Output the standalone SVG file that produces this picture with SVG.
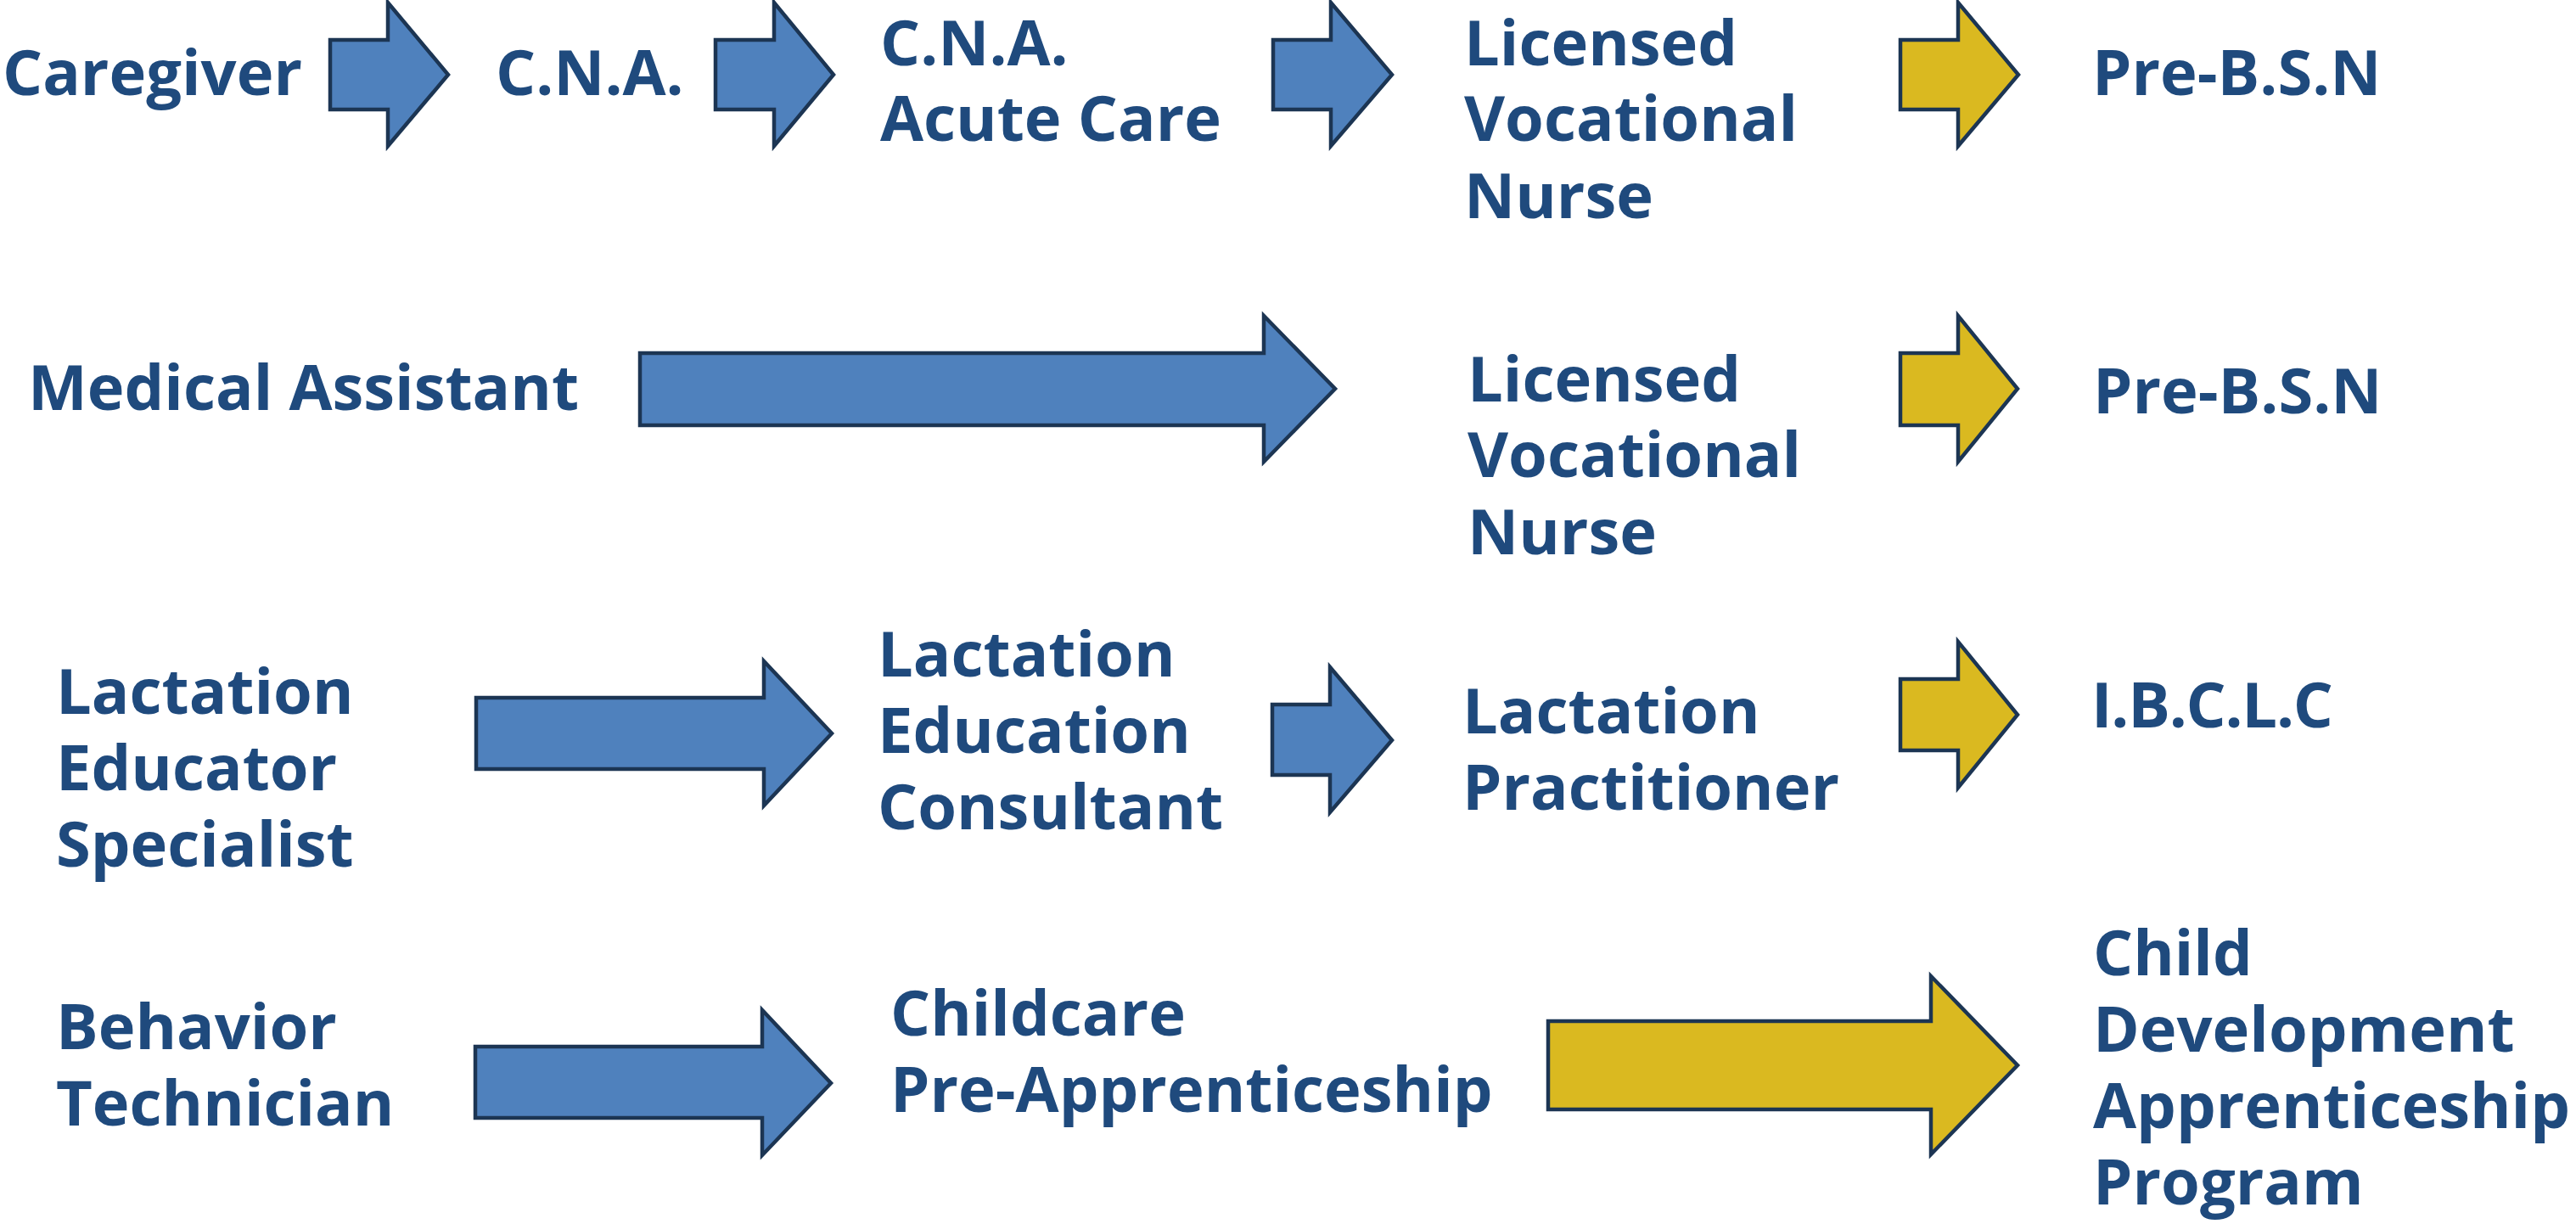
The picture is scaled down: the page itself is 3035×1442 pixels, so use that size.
<svg xmlns="http://www.w3.org/2000/svg" width="3035" height="1442" viewBox="0 0 3035 1442">
<style>
.t{font-family:"Open Sans","Noto Sans","Liberation Sans",sans-serif;font-weight:700;font-size:74px;fill:#1F4A7D}
.b{fill:#4F81BD;stroke:#1C3553;stroke-width:4.5;stroke-linejoin:miter}
.y{fill:#DAB920;stroke:#1C3553;stroke-width:4.5;stroke-linejoin:miter}
</style>
<rect width="3035" height="1442" fill="#FFFFFF"/>
<g id="connectors">
<polygon class="b" points="389,47 457,47 457,3 528,88 457,172 457,129 389,129"/>
<polygon class="b" points="843,47 912,47 912,3 982,88 912,172 912,129 843,129"/>
<polygon class="b" points="1500,47 1568,47 1568,3 1640,88 1568,172 1568,129 1500,129"/>
<polygon class="y" points="2239,47 2307,47 2307,3 2378,88 2307,172 2307,129 2239,129"/>
<polygon class="b" points="754,416 1489,416 1489,372 1573,458 1489,544 1489,501 754,501"/>
<polygon class="y" points="2239,416 2307,416 2307,372 2377,458 2307,544 2307,501 2239,501"/>
<polygon class="b" points="561,822 900,822 900,779 980,864 900,949 900,906 561,906"/>
<polygon class="b" points="1499,830 1567,830 1567,786 1640,872 1567,957 1567,913 1499,913"/>
<polygon class="y" points="2239,800 2307,800 2307,756 2377,842 2307,928 2307,884 2239,884"/>
<polygon class="b" points="560,1233 898,1233 898,1190 979,1276 898,1361 898,1317 560,1317"/>
<polygon class="y" points="1824,1203 2275,1203 2275,1150 2377,1255 2275,1360 2275,1307 1824,1307"/>
</g>
<g id="caregiver"><text class="t" x="3" y="112">Caregiver</text></g>
<g id="cna"><text class="t" x="584" y="112">C.N.A.</text></g>
<g id="cna-acute"><text class="t"><tspan x="1037" y="77">C.N.A.</tspan><tspan x="1037" y="166">Acute Care</tspan></text></g>
<g id="lvn-1"><text class="t"><tspan x="1725" y="77">Licensed</tspan><tspan x="1725" y="166">Vocational</tspan><tspan x="1725" y="257">Nurse</tspan></text></g>
<g id="prebsn-1"><text class="t" x="2465" y="112">Pre-B.S.N</text></g>
<g id="medical-assistant"><text class="t" x="33" y="483">Medical Assistant</text></g>
<g id="lvn-2"><text class="t"><tspan x="1729" y="473">Licensed</tspan><tspan x="1729" y="562">Vocational</tspan><tspan x="1729" y="653">Nurse</tspan></text></g>
<g id="prebsn-2"><text class="t" x="2466" y="487">Pre-B.S.N</text></g>
<g id="lactation-educator"><text class="t"><tspan x="66" y="841">Lactation</tspan><tspan x="66" y="931">Educator</tspan><tspan x="66" y="1021">Specialist</tspan></text></g>
<g id="lactation-consultant"><text class="t"><tspan x="1034" y="797">Lactation</tspan><tspan x="1034" y="887">Education</tspan><tspan x="1034" y="977">Consultant</tspan></text></g>
<g id="lactation-practitioner"><text class="t"><tspan x="1723" y="864">Lactation</tspan><tspan x="1723" y="954">Practitioner</tspan></text></g>
<g id="ibclc"><text class="t" x="2464" y="857" textLength="285" lengthAdjust="spacing">I.B.C.L.C</text></g>
<g id="behavior-technician"><text class="t"><tspan x="66" y="1236">Behavior</tspan><tspan x="66" y="1326">Technician</tspan></text></g>
<g id="childcare"><text class="t"><tspan x="1049" y="1220">Childcare</tspan><tspan x="1049" y="1310">Pre-Apprenticeship</tspan></text></g>
<g id="child-development"><text class="t"><tspan x="2466" y="1149">Child</tspan><tspan x="2466" y="1239">Development</tspan><tspan x="2466" y="1329">Apprenticeship</tspan><tspan x="2466" y="1419">Program</tspan></text></g>
</svg>
